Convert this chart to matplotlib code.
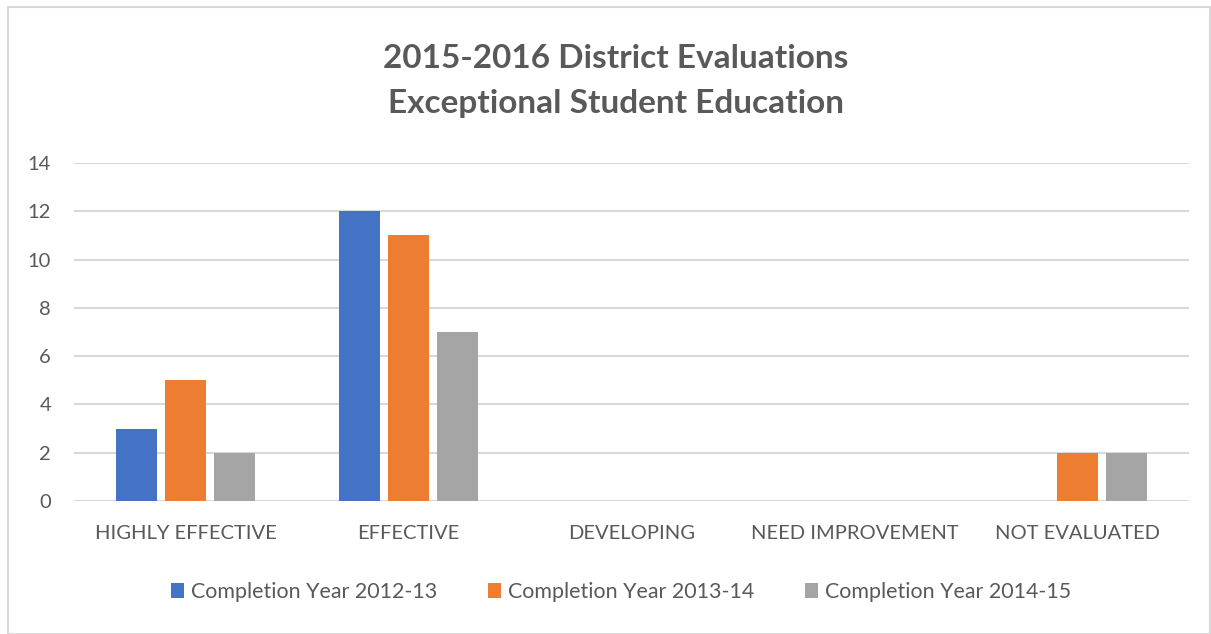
import matplotlib
matplotlib.use("Agg")
import matplotlib.pyplot as plt
from matplotlib.patches import Rectangle
import numpy as np

categories = ["HIGHLY EFFECTIVE", "EFFECTIVE", "DEVELOPING", "NEED IMPROVEMENT", "NOT EVALUATED"]
series_names = ["Completion Year 2012-13", "Completion Year 2013-14", "Completion Year 2014-15"]
y2012 = [3, 12, 0, 0, 0]
y2013 = [5, 11, 0, 0, 2]
y2014 = [2, 7, 0, 0, 2]
yticks = [0, 2, 4, 6, 8, 10, 12, 14]
colors = ["#4472C4", "#ED7D31", "#A5A5A5"]

plt.rcParams['font.family'] = ['Lato', 'DejaVu Sans']
W, H = 1211, 634
fig = plt.figure(figsize=(W/100, H/100), dpi=100)

# outer border
fig.patches.append(Rectangle((8/W, 0), (W-9)/W, (H-7)/H, transform=fig.transFigure,
                             fill=False, edgecolor="#D9D9D9", linewidth=1.5))

ax = fig.add_axes([74/W, 1-501/H, (1189-74)/W, (501-163)/H])
x = np.arange(len(categories))
bw = 0.18
off = 0.22
for i, (vals, c, n) in enumerate(zip([y2012, y2013, y2014], colors, series_names)):
    ax.bar(x + (i-1)*off, vals, width=bw, color=c, label=n, zorder=3)

ax.set_xlim(-0.5, len(categories)-0.5)
ax.set_ylim(0, 14)
ax.set_yticks(yticks)
ax.set_yticklabels([str(t) for t in yticks], fontsize=14.5, color="#595959")
ax.set_xticks(x)
ax.set_xticklabels(categories, fontsize=14.5, color="#595959")
ax.tick_params(axis='both', length=0)
ax.tick_params(axis='y', pad=16.5)
ax.tick_params(axis='x', pad=17)
ax.yaxis.grid(True, color="#D9D9D9", linewidth=1.5, zorder=0)
for s in ax.spines.values():
    s.set_visible(False)

fig.text(616/W, 1-59/H, "2015-2016 District Evaluations", ha='center', va='center',
         fontsize=24, fontweight='bold', color="#595959")
fig.text(616/W, 1-103/H, "Exceptional Student Education", ha='center', va='center',
         fontsize=24, fontweight='bold', color="#595959")

leg = fig.legend(loc='center', bbox_to_anchor=(621/W, 1-592/H), ncol=3, frameon=False,
                 fontsize=15.4, handlelength=0.61, handleheight=0.65, handletextpad=0.35,
                 columnspacing=2.35, labelcolor="#595959")

fig.savefig("out.png", dpi=100)
